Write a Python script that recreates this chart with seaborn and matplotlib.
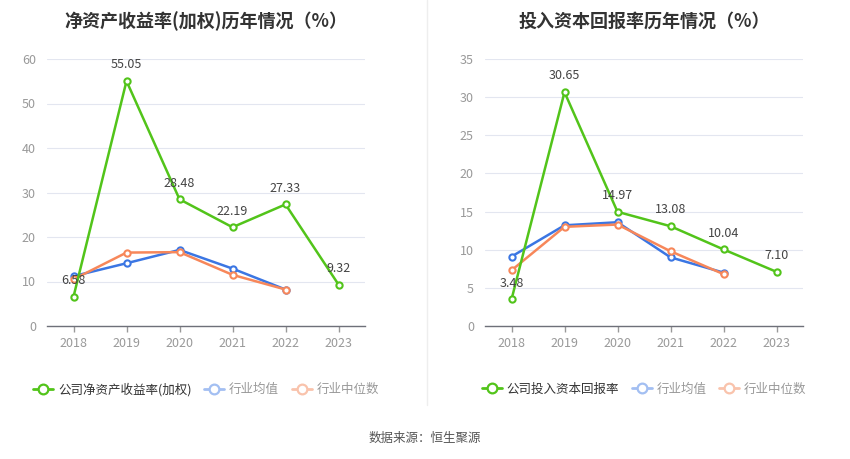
import pandas as pd
import matplotlib.pyplot as plt
import seaborn as sns
from matplotlib.lines import Line2D

years = ['2018', '2019', '2020', '2021', '2022', '2023']

# left: ROE (weighted)
roe_company = [6.58, 55.05, 28.48, 22.19, 27.33, 9.32]
roe_ind_avg = [11.2, 14.1, 17.1, 12.9, 8.2, None]
roe_ind_median = [10.5, 16.5, 16.6, 11.5, 8.2, None]

# right: ROIC
roic_company = [3.48, 30.65, 14.97, 13.08, 10.04, 7.10]
roic_ind_avg = [9.1, 13.2, 13.6, 9.0, 7.0, None]
roic_ind_median = [7.3, 13.0, 13.3, 9.8, 6.8, None]

GREEN = '#52c41a'
BLUE = '#3b76e3'
ORANGE = '#f7875a'

sns.set_theme(style='white')
plt.rcParams['font.family'] = ['Noto Sans CJK SC', 'DejaVu Sans']


def draw_panel(ax, title, company, avg, median, ymax, step, company_label):
    df = pd.DataFrame({'year': years, 'company': company, 'avg': avg, 'median': median})
    df['x'] = range(len(years))
    for col, color, z in [('avg', BLUE, 3), ('median', ORANGE, 3), ('company', GREEN, 4)]:
        sub = df.dropna(subset=[col])
        sns.lineplot(data=sub, x='x', y=col, ax=ax, color=color, linewidth=1.8,
                     marker='o', markersize=4.5, markerfacecolor='white',
                     markeredgecolor=color, markeredgewidth=1.5, zorder=z)
    for i, v in enumerate(company):
        ax.annotate(f'{v:.2f}', (i, v), xytext=(0, 7), textcoords='offset points',
                    ha='center', va='bottom', fontsize=9, color='#444444', zorder=5)

    ax.set_xlim(-0.5, len(years) - 0.5)
    ax.set_ylim(0, ymax)
    ax.set_yticks(range(0, ymax + 1, step))
    ax.set_xticks(range(len(years)))
    ax.set_xticklabels(years)
    ax.set_xlabel('')
    ax.set_ylabel('')
    ax.grid(axis='y', color='#e3e6f0', linewidth=0.8)
    ax.set_axisbelow(True)
    for s in ['top', 'right', 'left']:
        ax.spines[s].set_visible(False)
    ax.spines['bottom'].set_color('#6e7079')
    ax.spines['bottom'].set_linewidth(1)
    ax.tick_params(axis='x', colors='#999999', labelsize=9, length=4, width=1, direction='out', bottom=True, pad=4)
    ax.tick_params(axis='y', colors='#999999', labelsize=9, length=0, pad=8)
    for t in ax.get_xticklabels():
        t.set_color('#999999')
    ax.set_title(title, fontsize=13, fontweight='bold', color='#333333', pad=0, y=1.12)

    handles = [
        Line2D([0], [0], color=GREEN, marker='o', markerfacecolor='white', markeredgecolor=GREEN,
               markersize=7, markeredgewidth=1.6, linewidth=2),
        Line2D([0], [0], color='#a3bff2', marker='o', markerfacecolor='white', markeredgecolor='#a3bff2',
               markersize=7, markeredgewidth=1.6, linewidth=2),
        Line2D([0], [0], color='#f9c3ac', marker='o', markerfacecolor='white', markeredgecolor='#f9c3ac',
               markersize=7, markeredgewidth=1.6, linewidth=2),
    ]
    leg = ax.legend(handles, [company_label, '行业均值', '行业中位数'], loc='upper center',
                    bbox_to_anchor=(0.5, -0.17), ncol=3, frameon=False, fontsize=9,
                    handlelength=1.6, handletextpad=0.4, columnspacing=1.0)
    for txt, c in zip(leg.get_texts(), ['#333333', '#999999', '#999999']):
        txt.set_color(c)


fig = plt.figure(figsize=(8.5, 4.59), dpi=100)
ax1 = fig.add_axes([47 / 850, 1 - 326 / 459, 318 / 850, 267 / 459])
ax2 = fig.add_axes([485 / 850, 1 - 326 / 459, 318 / 850, 267 / 459])

draw_panel(ax1, '净资产收益率(加权)历年情况（%）', roe_company, roe_ind_avg, roe_ind_median,
           60, 10, '公司净资产收益率(加权)')
draw_panel(ax2, '投入资本回报率历年情况（%）', roic_company, roic_ind_avg, roic_ind_median,
           35, 5, '公司投入资本回报率')

fig.add_artist(Line2D([427 / 850, 427 / 850], [1 - 405 / 459, 1.0], color='#eeeeee', linewidth=1))
fig.text(0.5, 1 - 438 / 459, '数据来源：恒生聚源', ha='center', va='center', fontsize=9, color='#555555')

fig.savefig('out.png', dpi=100)
